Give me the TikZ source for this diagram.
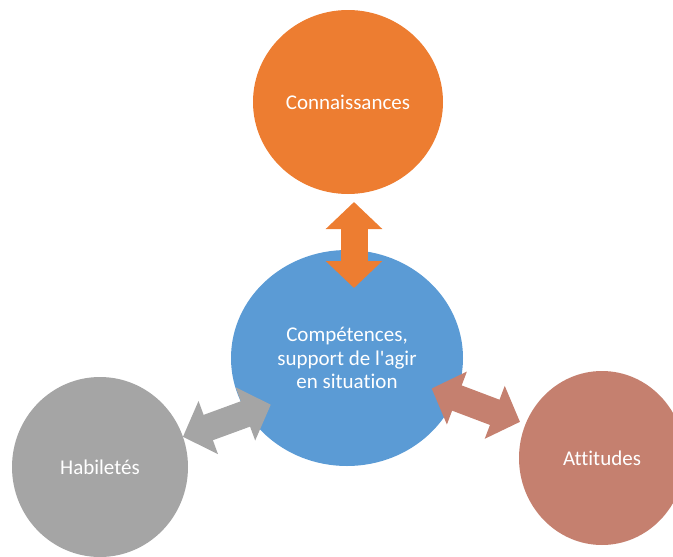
\documentclass[tikz,border=0pt]{standalone}
\usepackage{fontspec}
\setmainfont{Carlito}[Ligatures=NoCommon]
\usetikzlibrary{arrows.meta,positioning,shapes.geometric}
\definecolor{orangeC}{HTML}{ED7D31}
\definecolor{bleuC}{HTML}{5B9BD5}
\definecolor{grisC}{HTML}{A5A5A5}
\definecolor{roseC}{HTML}{C5806F}

\begin{document}
\begin{tikzpicture}[x=1pt,y=-1pt,
  bulle/.style={ellipse,inner sep=0pt,outer sep=0pt,text=white,align=center,
    font=\fontsize{21}{23.5}\selectfont},
  fleche/.style={line width=27pt,
    {Triangle[length=27pt 0 0,width=55pt 0 0]}-{Triangle[length=27pt 0 0,width=55pt 0 0]}}]
  \useasboundingbox (0,0) rectangle (673,557);
  % 四个椭圆
  \node[bulle,fill=orangeC,minimum width=190pt,minimum height=184pt] (conn) at (348,102) {Connaissances};
  \node[bulle,fill=bleuC,minimum width=232pt,minimum height=216pt] (comp) at (347,358)
    {Compétences,\\support de l\textquotesingle agir\\en situation};
  \node[bulle,fill=grisC,minimum width=176pt,minimum height=180pt] (hab) at (100,467) {Habiletés};
  \node[bulle,fill=roseC,minimum width=166pt,minimum height=174pt] (att) at (602,458) {Attitudes};
  % 双向箭头
  \draw[fleche,draw=orangeC,fill=orangeC,shorten <=8pt,shorten >=-38pt]
    ([xshift=6pt]conn.south) -- ([xshift=7pt]comp.north);
  \draw[fleche,draw=grisC,fill=grisC,shorten >=-25pt] (hab.20) -- (comp.209);
  \draw[fleche,draw=roseC,fill=roseC,shorten <=-25pt,shorten >=6pt] (comp.340) -- (att.156);
\end{tikzpicture}
\end{document}
